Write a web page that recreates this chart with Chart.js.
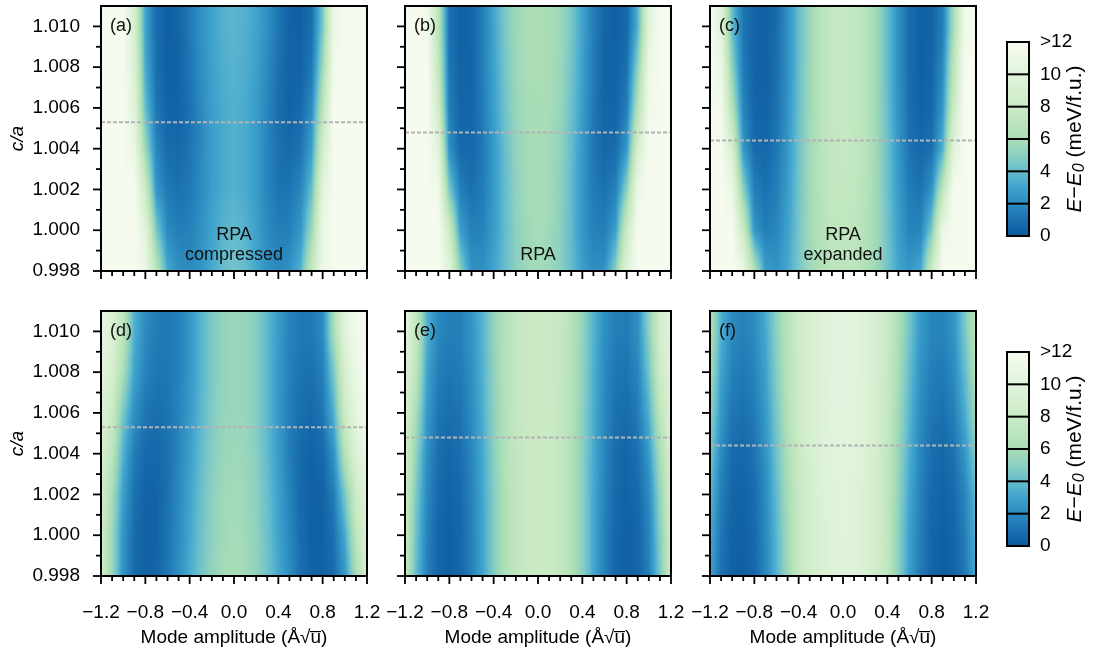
<!DOCTYPE html>
<html>
<head>
<meta charset="utf-8">
<title>Energy landscape vs c/a</title>
<script src="https://cdn.jsdelivr.net/npm/chart.js@4.4.1/dist/chart.umd.min.js"></script>
<style>
  body { margin: 0; background: #fff; }
  #figure { position: relative; width: 1094px; height: 656px; overflow: hidden; background: #fff; }
  #figure canvas { position: absolute; }
</style>
</head>
<body>
<div id="figure"></div>
<script>
// grid nodes
const amplitude = [-1.2, -1.1, -1.0, -0.9, -0.8, -0.7, -0.6, -0.5, -0.4, -0.3, -0.2, -0.1, 0,
                   0.1, 0.2, 0.3, 0.4, 0.5, 0.6, 0.7, 0.8, 0.9, 1.0, 1.1, 1.2];
const caRows = [0.998, 1.000, 1.002, 1.004, 1.006, 1.008, 1.010];

// E - E0 (meV/f.u.), one row per c/a value (bottom to top), capped at 12
const energyA = [
  [12, 12, 12, 12, 11, 7, 3.2, 2.2, 2.0, 2.4, 3.2, 4.0, 4.4, 4.0, 3.2, 2.3, 1.9, 2.3, 3.5, 7.5, 11, 12, 12, 12, 12],
  [12, 12, 12, 12, 10, 4.5, 2.0, 1.5, 1.6, 2.2, 3.0, 3.6, 3.9, 3.6, 2.9, 2.0, 1.5, 1.6, 2.5, 5.5, 11, 12, 12, 12, 12],
  [12, 12, 12, 12, 8, 2.5, 1.3, 1.0, 1.3, 2.0, 2.8, 3.3, 3.5, 3.3, 2.7, 1.8, 1.1, 1.1, 1.8, 4, 10, 12, 12, 12, 12],
  [12, 12, 12, 11, 5.5, 1.8, 0.8, 0.7, 1.1, 1.9, 2.8, 3.3, 3.5, 3.3, 2.7, 1.8, 1.0, 0.7, 1.1, 2.8, 8.5, 12, 12, 12, 12],
  [12, 12, 12, 10, 4, 1.2, 0.4, 0.4, 1.0, 1.9, 2.8, 3.3, 3.5, 3.3, 2.7, 1.8, 0.9, 0.4, 0.7, 2.0, 7, 12, 12, 12, 12],
  [12, 12, 12, 9.5, 3.3, 0.9, 0.3, 0.4, 1.2, 2.1, 2.9, 3.4, 3.6, 3.4, 2.9, 2.0, 1.0, 0.4, 0.4, 1.3, 5.5, 11.5, 12, 12, 12],
  [12, 12, 12, 9, 3, 0.8, 0.3, 0.5, 1.3, 2.2, 3.0, 3.5, 3.7, 3.5, 3.0, 2.2, 1.2, 0.4, 0.3, 0.9, 4.5, 11, 12, 12, 12]
];
const energyB = [
  [12, 12, 12, 12, 10, 5, 2.3, 2.2, 3.0, 4.0, 5.0, 5.6, 5.8, 5.6, 5.0, 4.0, 2.8, 2.1, 2.3, 5, 10, 12, 12, 12, 12],
  [12, 12, 12, 12, 8, 2.8, 1.6, 1.7, 2.7, 3.9, 5.0, 5.7, 5.9, 5.7, 5.0, 3.9, 2.5, 1.6, 1.5, 2.8, 8, 12, 12, 12, 12],
  [12, 12, 12, 11.5, 4.5, 1.5, 1.0, 1.4, 2.6, 3.9, 5.1, 5.8, 6.0, 5.8, 5.1, 3.9, 2.5, 1.4, 1.0, 1.6, 5, 11, 12, 12, 12],
  [12, 12, 12, 10, 2.2, 0.7, 0.6, 1.3, 2.6, 4.0, 5.2, 5.8, 6.0, 5.8, 5.2, 4.0, 2.6, 1.2, 0.6, 0.8, 2.5, 9, 12, 12, 12],
  [12, 12, 12, 8.5, 1.5, 0.5, 0.5, 1.4, 2.8, 4.2, 5.4, 5.9, 6.0, 5.9, 5.4, 4.2, 2.8, 1.3, 0.5, 0.5, 1.5, 6.5, 11.5, 12, 12],
  [12, 12, 12, 7.5, 1.2, 0.4, 0.5, 1.5, 2.9, 4.4, 5.5, 6.0, 6.1, 6.0, 5.5, 4.4, 2.9, 1.4, 0.5, 0.4, 1.0, 5, 11, 12, 12],
  [12, 12, 11.5, 7, 1.0, 0.3, 0.5, 1.5, 3.0, 4.5, 5.6, 6.0, 6.1, 6.0, 5.6, 4.5, 3.0, 1.5, 0.5, 0.3, 0.6, 3.5, 10, 12, 12]
];
const energyC = [
  [12, 12, 12, 11, 6.5, 2.8, 2.4, 3.2, 4.5, 5.6, 6.4, 6.9, 7.0, 6.9, 6.4, 5.6, 4.4, 3.1, 2.5, 3.2, 8, 12, 12, 12, 12],
  [12, 12, 12, 8, 2.5, 1.5, 1.8, 2.9, 4.4, 5.7, 6.6, 7.2, 7.3, 7.2, 6.6, 5.7, 4.3, 2.8, 1.7, 1.8, 4.5, 11, 12, 12, 12],
  [12, 12, 11, 5, 1.5, 1.0, 1.5, 2.7, 4.3, 5.7, 6.7, 7.3, 7.5, 7.3, 6.7, 5.7, 4.2, 2.7, 1.4, 1.1, 2.3, 7, 12, 12, 12],
  [12, 12, 9, 2.5, 0.8, 0.6, 1.2, 2.5, 4.2, 5.7, 6.8, 7.4, 7.6, 7.4, 6.8, 5.7, 4.2, 2.5, 1.1, 0.6, 1.0, 3.5, 10, 12, 12],
  [12, 11.5, 6.5, 1.8, 0.5, 0.4, 1.0, 2.3, 4.1, 5.6, 6.8, 7.5, 7.7, 7.5, 6.8, 5.6, 4.1, 2.3, 0.9, 0.4, 0.6, 2.5, 8, 12, 12],
  [12, 11, 5, 1.4, 0.4, 0.3, 0.9, 2.2, 4.0, 5.6, 6.8, 7.5, 7.7, 7.5, 6.8, 5.6, 4.0, 2.2, 0.8, 0.3, 0.5, 2.0, 7, 12, 12],
  [12, 10, 4, 1.2, 0.4, 0.3, 0.8, 2.2, 4.0, 5.6, 6.8, 7.5, 7.7, 7.5, 6.8, 5.6, 4.0, 2.2, 0.8, 0.3, 0.4, 1.5, 6, 11.5, 12]
];
const energyD = [
  [8.5, 5.5, 2.3, 0.8, 0.3, 0.5, 1.2, 2.2, 3.3, 4.3, 5.2, 5.8, 6.0, 5.8, 5.2, 4.3, 3.2, 2.1, 1.0, 0.4, 0.3, 0.8, 2.5, 6, 9],
  [8.5, 5.5, 2.4, 0.8, 0.3, 0.4, 1.1, 2.0, 3.1, 4.2, 5.1, 5.7, 5.9, 5.7, 5.1, 4.2, 3.0, 1.9, 0.8, 0.3, 0.3, 1.0, 3.2, 7, 9.5],
  [8.5, 6, 2.8, 1.0, 0.4, 0.4, 1.0, 1.9, 3.0, 4.1, 5.0, 5.6, 5.8, 5.6, 5.0, 4.1, 2.9, 1.7, 0.7, 0.3, 0.4, 1.5, 4.5, 8, 10],
  [9, 7, 3.5, 1.5, 0.7, 0.6, 1.0, 1.8, 2.8, 3.9, 4.8, 5.4, 5.6, 5.5, 4.9, 3.9, 2.7, 1.5, 0.7, 0.4, 0.7, 2.3, 6.5, 9.5, 11],
  [9.5, 8, 4.5, 2.2, 1.2, 0.9, 1.1, 1.7, 2.6, 3.7, 4.7, 5.3, 5.5, 5.4, 4.8, 3.8, 2.6, 1.5, 0.9, 0.7, 1.2, 3.5, 8, 10.5, 11.5],
  [10, 9, 6, 3, 1.7, 1.2, 1.2, 1.6, 2.5, 3.6, 4.6, 5.3, 5.5, 5.4, 4.8, 3.8, 2.6, 1.6, 1.1, 1.0, 1.6, 4.5, 9, 11, 12],
  [10.5, 9.5, 7, 3.5, 2.0, 1.4, 1.3, 1.6, 2.5, 3.6, 4.6, 5.3, 5.5, 5.4, 4.8, 3.8, 2.7, 1.7, 1.3, 1.3, 2.0, 6, 10, 11.5, 12]
];
const energyE = [
  [7.5, 4, 1.6, 0.5, 0.3, 0.6, 1.6, 3.0, 4.8, 6.3, 7.3, 7.8, 8.0, 7.9, 7.4, 6.5, 5.0, 3.2, 1.6, 0.6, 0.3, 0.5, 1.6, 4.5, 8],
  [7.8, 4.2, 1.7, 0.5, 0.3, 0.6, 1.6, 3.0, 4.8, 6.3, 7.3, 7.8, 8.0, 7.9, 7.4, 6.5, 5.0, 3.2, 1.6, 0.6, 0.3, 0.5, 1.7, 4.8, 8.2],
  [8, 4.6, 1.9, 0.7, 0.4, 0.7, 1.7, 3.1, 4.8, 6.3, 7.3, 7.8, 8.0, 7.9, 7.4, 6.5, 5.0, 3.2, 1.7, 0.7, 0.4, 0.7, 2.0, 5.2, 8.5],
  [8.5, 5.2, 2.2, 0.9, 0.6, 0.9, 1.8, 3.2, 4.9, 6.4, 7.3, 7.8, 8.0, 7.9, 7.5, 6.5, 5.0, 3.3, 1.8, 0.8, 0.5, 1.0, 2.6, 6, 9],
  [9, 6, 2.6, 1.2, 0.9, 1.1, 2.0, 3.4, 5.0, 6.4, 7.4, 7.9, 8.1, 8.0, 7.5, 6.6, 5.1, 3.4, 1.9, 1.0, 0.8, 1.4, 3.5, 7, 9.5],
  [9.5, 7, 3.0, 1.5, 1.2, 1.4, 2.2, 3.5, 5.1, 6.5, 7.4, 7.9, 8.1, 8.0, 7.6, 6.6, 5.2, 3.5, 2.0, 1.2, 1.1, 1.8, 4.3, 8, 10],
  [10, 7.5, 3.5, 1.9, 1.5, 1.6, 2.4, 3.6, 5.2, 6.5, 7.4, 7.9, 8.1, 8.0, 7.6, 6.7, 5.3, 3.6, 2.2, 1.5, 1.4, 2.2, 5, 8.5, 10]
];
const energyF = [
  [3.0, 1.0, 0.3, 0.2, 0.6, 1.8, 3.6, 5.6, 7.6, 8.6, 9.3, 9.8, 10.0, 9.8, 9.3, 8.4, 7.2, 5.0, 2.8, 1.4, 0.5, 0.2, 0.4, 1.3, 3.2],
  [3.3, 1.2, 0.4, 0.3, 0.7, 1.9, 3.7, 5.7, 7.6, 8.7, 9.3, 9.8, 10.0, 9.8, 9.3, 8.5, 7.2, 5.0, 2.9, 1.5, 0.5, 0.3, 0.5, 1.5, 3.5],
  [3.8, 1.5, 0.5, 0.4, 0.8, 2.0, 3.9, 5.9, 7.7, 8.8, 9.4, 9.9, 10.0, 9.9, 9.4, 8.6, 7.3, 5.2, 3.1, 1.6, 0.7, 0.4, 0.7, 1.8, 3.9],
  [4.5, 2.0, 0.8, 0.6, 1.1, 2.3, 4.2, 6.2, 7.9, 8.9, 9.6, 10.0, 10.1, 10.0, 9.5, 8.7, 7.4, 5.4, 3.4, 1.8, 0.9, 0.6, 1.1, 2.5, 4.8],
  [5.3, 2.5, 1.2, 1.0, 1.4, 2.6, 4.5, 6.5, 8.0, 9.0, 9.7, 10.0, 10.1, 10.0, 9.6, 8.9, 7.6, 5.7, 3.7, 2.0, 1.2, 1.0, 1.6, 3.3, 5.8],
  [6, 3.0, 1.6, 1.3, 1.7, 2.9, 4.8, 6.7, 8.1, 9.1, 9.7, 10.1, 10.2, 10.1, 9.7, 9.0, 7.7, 6.0, 4.0, 2.3, 1.5, 1.3, 2.0, 3.9, 6.5],
  [6.5, 3.5, 2.0, 1.6, 2.0, 3.2, 5.0, 6.8, 8.2, 9.1, 9.7, 10.1, 10.2, 10.1, 9.7, 9.0, 7.8, 6.2, 4.3, 2.6, 1.8, 1.7, 2.4, 4.5, 7]
];
const energyPanels = [energyA, energyB, energyC, energyD, energyE, energyF];

// equilibrium c/a (dashed lines)
const caEquilibrium = [1.0053, 1.0048, 1.0044, 1.0053, 1.0048, 1.0044];

const panelLabels = ['(a)', '(b)', '(c)', '(d)', '(e)', '(f)'];
const panelNotes = [['RPA', 'compressed'], ['RPA'], ['RPA', 'expanded'], [], [], []];

// ticks
const xMajor = [-1.2, -0.8, -0.4, 0, 0.4, 0.8, 1.2];
const xMajorLabels = ['\u22121.2', '\u22120.8', '\u22120.4', '0.0', '0.4', '0.8', '1.2'];
const caMajor = [0.998, 1.000, 1.002, 1.004, 1.006, 1.008, 1.010];
const caMajorLabels = ['0.998', '1.000', '1.002', '1.004', '1.006', '1.008', '1.010'];
const caMinor = [0.999, 1.001, 1.003, 1.005, 1.007, 1.009];
const cbarTicks = [0, 2, 4, 6, 8, 10, 12];
const cbarLabels = ['0', '2', '4', '6', '8', '10', '>12'];

// colour map (reversed GnBu look), one colour per meV
const cmapColors = ['#0b5a9e', '#1b71b0', '#2c8bbf', '#40a3cd', '#66bdcd', '#8cd0c0', '#a9ddb6',
                    '#bce5bd', '#cbeac5', '#d6efd0', '#e0f3db', '#ebf7e5', '#f5fbef'];

const FONT = '"Liberation Sans", Arial, Helvetica, sans-serif';
Chart.defaults.font.family = FONT;
Chart.defaults.font.size = 19;
Chart.defaults.color = '#000';

const figure = document.getElementById('figure');

function hexToRgb(h) {
  return [parseInt(h.slice(1, 3), 16), parseInt(h.slice(3, 5), 16), parseInt(h.slice(5, 7), 16)];
}
const cmapRgb = cmapColors.map(hexToRgb);
const lut = [];
for (let k = 0; k <= 1200; k++) {
  const v = k / 100;
  const i = Math.min(Math.floor(v), 11);
  const f = v - i;
  const a = cmapRgb[i], b = cmapRgb[i + 1];
  lut.push([0, 1, 2].map(c => Math.round(a[c] + (b[c] - a[c]) * f)));
}
function energyRgb(v) {
  const k = Math.max(0, Math.min(1200, Math.round(v * 100)));
  return lut[k];
}

function locate(nodes, v) {
  const n = nodes.length;
  if (v <= nodes[0]) return [0, 0];
  if (v >= nodes[n - 1]) return [n - 2, 1];
  let i = 0;
  while (i < n - 2 && nodes[i + 1] < v) i++;
  return [i, (v - nodes[i]) / (nodes[i + 1] - nodes[i])];
}

function line(ctx, x1, y1, x2, y2) {
  ctx.beginPath();
  ctx.moveTo(x1, y1);
  ctx.lineTo(x2, y2);
  ctx.stroke();
}

// keep label overflow from shrinking the plot area
function noScalePadding(s) {
  s.paddingLeft = 0; s.paddingRight = 0; s.paddingTop = 0; s.paddingBottom = 0;
}

function panelPlugin(k) {
  const grid = energyPanels[k];
  return {
    id: 'panel' + k,
    beforeDatasetsDraw(chart) {
      const {ctx, chartArea: a, scales: {x, y}} = chart;
      const w = Math.round(a.right - a.left), h = Math.round(a.bottom - a.top);
      const off = document.createElement('canvas');
      off.width = w; off.height = h;
      const octx = off.getContext('2d');
      const img = octx.createImageData(w, h);
      const cols = [];
      for (let px = 0; px < w; px++) cols.push(locate(amplitude, x.getValueForPixel(a.left + px + 0.5)));
      for (let py = 0; py < h; py++) {
        const [j, fy] = locate(caRows, y.getValueForPixel(a.top + py + 0.5));
        const r0 = grid[j], r1 = grid[j + 1];
        for (let px = 0; px < w; px++) {
          const [i, fx] = cols[px];
          const v = (r0[i] * (1 - fx) + r0[i + 1] * fx) * (1 - fy) + (r1[i] * (1 - fx) + r1[i + 1] * fx) * fy;
          const c = energyRgb(v);
          const o = (py * w + px) * 4;
          img.data[o] = c[0]; img.data[o + 1] = c[1]; img.data[o + 2] = c[2]; img.data[o + 3] = 255;
        }
      }
      octx.putImageData(img, 0, 0);
      ctx.drawImage(off, a.left, a.top);
    },
    afterDraw(chart) {
      const {ctx, chartArea: a, scales: {x, y}} = chart;
      ctx.save();
      ctx.strokeStyle = '#000';
      ctx.lineWidth = 1.8;
      amplitude.forEach(v => {
        const px = x.getPixelForValue(v);
        line(ctx, px, a.bottom, px, a.bottom + (xMajor.includes(v) ? 8 : 5));
      });
      caMajor.forEach(v => { const py = y.getPixelForValue(v); line(ctx, a.left - 8, py, a.left, py); });
      caMinor.forEach(v => { const py = y.getPixelForValue(v); line(ctx, a.left - 5, py, a.left, py); });
      ctx.lineWidth = 2;
      ctx.strokeRect(a.left, a.top, a.right - a.left, a.bottom - a.top);

      ctx.fillStyle = '#111';
      ctx.font = '18px ' + FONT;
      ctx.textBaseline = 'middle';
      ctx.textAlign = 'left';
      ctx.fillText(panelLabels[k], a.left + 9, a.top + 20);
      ctx.textAlign = 'center';
      const notes = panelNotes[k];
      notes.forEach((t, n) => {
        ctx.fillText(t, (a.left + a.right) / 2, a.bottom - 16 - (notes.length - 1 - n) * 20);
      });
      ctx.restore();
    }
  };
}

function makePanel(k) {
  const col = k % 3, row = Math.floor(k / 3);
  const areaLeft = [101, 405, 710][col], areaTop = [6, 311][row];
  const areaW = 266, areaH = 265;
  const padL = col === 0 ? 101 : 24, padR = 24, padT = 6, padB = row === 1 ? 80 : 20;
  const canvas = document.createElement('canvas');
  canvas.width = padL + areaW + padR;
  canvas.height = padT + areaH + padB;
  canvas.style.left = (areaLeft - padL) + 'px';
  canvas.style.top = (areaTop - padT) + 'px';
  figure.appendChild(canvas);

  new Chart(canvas, {
    type: 'scatter',
    data: {
      datasets: [{
        data: [{x: -1.2, y: caEquilibrium[k]}, {x: 1.2, y: caEquilibrium[k]}],
        showLine: true,
        borderColor: '#b3b3b3',
        borderWidth: 2,
        borderDash: [4, 2],
        pointRadius: 0
      }]
    },
    options: {
      responsive: false,
      animation: false,
      devicePixelRatio: 1,
      layout: {padding: {top: padT, right: padR, left: 0, bottom: 0}},
      plugins: {legend: {display: false}, tooltip: {enabled: false}},
      scales: {
        x: {
          type: 'linear', min: -1.2, max: 1.2,
          grid: {display: false, drawTicks: false},
          border: {display: false},
          afterBuildTicks: s => { s.ticks = xMajor.map(v => ({value: v})); },
          afterFit: s => { s.height = padB; noScalePadding(s); },
          ticks: {
            display: row === 1, padding: 25, autoSkip: false, maxRotation: 0,
            callback: (v, i) => xMajorLabels[i]
          },
          title: {
            display: row === 1, text: 'Mode amplitude (\u00c5\u221au\u0305)',
            padding: {top: 0, bottom: 7}
          }
        },
        y: {
          type: 'linear', min: 0.998, max: 1.011,
          grid: {display: false, drawTicks: false},
          border: {display: false},
          afterBuildTicks: s => { s.ticks = caMajor.map(v => ({value: v})); },
          afterFit: s => { s.width = padL; noScalePadding(s); },
          ticks: {
            display: col === 0, padding: 21, autoSkip: false,
            callback: (v, i) => caMajorLabels[i]
          },
          title: {
            display: col === 0, text: 'c/a',
            font: {style: 'italic', size: 19},
            padding: {top: 6, bottom: 0}
          }
        }
      }
    },
    plugins: [panelPlugin(k)]
  });
}

const colorbarPlugin = {
  id: 'colorbar',
  beforeDatasetsDraw(chart) {
    const {ctx, chartArea: a, scales: {y}} = chart;
    for (let py = Math.floor(a.top); py < a.bottom; py++) {
      const c = energyRgb(y.getValueForPixel(py + 0.5));
      ctx.fillStyle = 'rgb(' + c.join(',') + ')';
      ctx.fillRect(a.left, py, a.right - a.left, 1);
    }
  },
  afterDraw(chart) {
    const {ctx, chartArea: a, scales: {y}} = chart;
    ctx.save();
    ctx.strokeStyle = '#000';
    ctx.lineWidth = 2;
    cbarTicks.slice(1, -1).forEach(v => {
      const py = y.getPixelForValue(v);
      line(ctx, a.left, py, a.right, py);
    });
    ctx.strokeRect(a.left, a.top, a.right - a.left, a.bottom - a.top);

    // title: E−E0 (meV/f.u.)
    const pieces = [
      ['E', 'italic 21px ', 0], ['\u2212', '21px ', 0], ['E', 'italic 21px ', 0],
      ['0', 'italic 16px ', 5], [' (meV/f.u.)', '21px ', 0]
    ];
    let total = 0;
    pieces.forEach(p => { ctx.font = p[1] + FONT; total += ctx.measureText(p[0]).width; });
    ctx.translate(75, (a.top + a.bottom) / 2);
    ctx.rotate(-Math.PI / 2);
    ctx.fillStyle = '#000';
    ctx.textBaseline = 'middle';
    ctx.textAlign = 'left';
    let xpos = -total / 2;
    pieces.forEach(p => {
      ctx.font = p[1] + FONT;
      ctx.fillText(p[0], xpos, p[2]);
      xpos += ctx.measureText(p[0]).width;
    });
    ctx.restore();
  }
};

function makeColorbar(areaTop) {
  const canvas = document.createElement('canvas');
  canvas.width = 94;
  canvas.height = 240;
  canvas.style.left = '1000px';
  canvas.style.top = (areaTop - 22) + 'px';
  figure.appendChild(canvas);
  new Chart(canvas, {
    type: 'scatter',
    data: {datasets: [{data: []}]},
    options: {
      responsive: false,
      animation: false,
      devicePixelRatio: 1,
      layout: {padding: {top: 22, bottom: 24, left: 7, right: 0}},
      plugins: {legend: {display: false}, tooltip: {enabled: false}},
      scales: {
        x: {display: false, min: 0, max: 1},
        y: {
          type: 'linear', position: 'right', min: 0, max: 12,
          grid: {display: false, drawTicks: false},
          border: {display: false},
          afterBuildTicks: s => { s.ticks = cbarTicks.map(v => ({value: v})); },
          afterFit: s => { s.width = 65; noScalePadding(s); },
          ticks: {padding: 11, autoSkip: false, callback: (v, i) => cbarLabels[i]}
        }
      }
    },
    plugins: [colorbarPlugin]
  });
}

for (let k = 0; k < 6; k++) makePanel(k);
makeColorbar(42);
makeColorbar(352);
</script>
</body>
</html>
